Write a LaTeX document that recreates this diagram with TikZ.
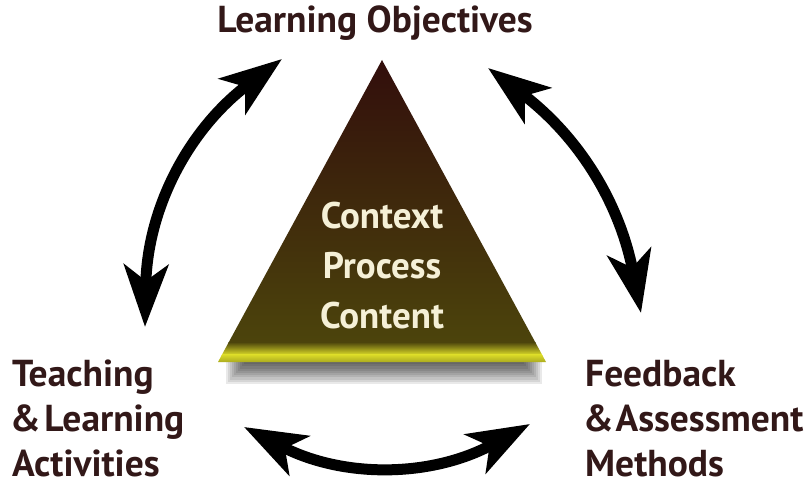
\documentclass[tikz,border=0pt]{standalone}
\usepackage{fontspec}
\setmainfont{PT Sans}
\usetikzlibrary{arrows.meta}
\definecolor{txt}{RGB}{50,24,24}
\definecolor{cream}{RGB}{245,240,215}
\definecolor{tritop}{RGB}{50,14,12}
\definecolor{trimid}{RGB}{60,34,14}
\definecolor{tribot}{RGB}{76,68,12}
\definecolor{band}{RGB}{220,220,40}
\tikzset{
  label/.style={font=\fontsize{37.5}{45}\selectfont\bfseries, text=txt, inner sep=0pt},
  core/.style={font=\fontsize{37}{50}\selectfont\bfseries, text=cream, align=center, inner sep=0pt},
  arr/.style={line width=11pt, black, {Stealth[length=62pt,width=44pt,inset=16pt]}-{Stealth[length=62pt,width=44pt,inset=16pt]}}
}
\begin{document}
\begin{tikzpicture}[x=1pt,y=-1pt]
\useasboundingbox (0,0) rectangle (807,487);
% soft shadow
\foreach \i in {0,...,9} {
  \fill[black, opacity=0.085] (226+\i*2,360) rectangle (542-\i*2,384-\i*2.2);
}
% triangle
\coordinate (A) at (382,60);
\coordinate (B) at (218,362);
\coordinate (C) at (546,362);
\begin{scope}
  \clip (A) -- (B) -- (C) -- cycle;
  \shade[top color=tritop, middle color=trimid, bottom color=tribot] (200,60) rectangle (560,343);
  \shade[top color=tribot, bottom color=band] (200,342) rectangle (560,355);
  \shade[top color=band, bottom color=band!75!black] (200,354.5) rectangle (560,363);
\end{scope}
\node[core] (ccp) at (382,266) {Context\\Process\\Content};
% labels
\node[label, anchor=base] (lo) at (375,33) {Learning Objectives};
\node[label, anchor=north west, align=left] (tla) at (12,360) {Teaching\\\hspace{-2pt}\&\hspace{0.1em}Learning\\Activities};
\node[label, anchor=north west, align=left] (fam) at (585,360) {Feedback\\\hspace{-2pt}\&\hspace{0.05em}Assessment\\Methods};
% arrows
\coordinate (l1) at (145,327);
\coordinate (l2) at (282,59);
\coordinate (r1) at (488,68);
\coordinate (r2) at (641,313);
\coordinate (b1) at (244,427);
\coordinate (b2) at (530,424);
\draw[arr] (l1) to[bend left=26] (l2);
\draw[arr] (r1) to[bend left=21] (r2);
\draw[arr] (b1) to[bend right=28] (b2);
\end{tikzpicture}
\end{document}
